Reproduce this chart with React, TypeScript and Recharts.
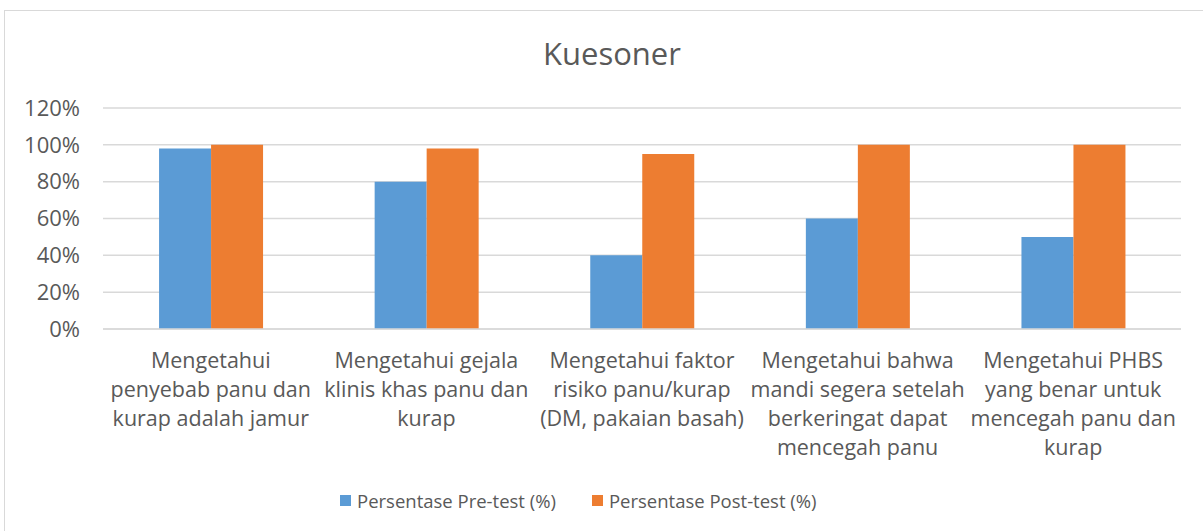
import React from 'react';
import { BarChart, Bar, XAxis, YAxis, CartesianGrid, Legend } from 'recharts';

const CATEGORIES = [
  'Mengetahui penyebab panu dan kurap adalah jamur',
  'Mengetahui gejala klinis khas panu dan kurap',
  'Mengetahui faktor risiko panu/kurap (DM, pakaian basah)',
  'Mengetahui bahwa mandi segera setelah berkeringat dapat mencegah panu',
  'Mengetahui PHBS yang benar untuk mencegah panu dan kurap',
];

// how each category label wraps under the axis
const CATEGORY_LINES = [
  ['Mengetahui', 'penyebab panu dan', 'kurap adalah jamur'],
  ['Mengetahui gejala', 'klinis khas panu dan', 'kurap'],
  ['Mengetahui faktor', 'risiko panu/kurap', '(DM, pakaian basah)'],
  ['Mengetahui bahwa', 'mandi segera setelah', 'berkeringat dapat', 'mencegah panu'],
  ['Mengetahui PHBS', 'yang benar untuk', 'mencegah panu dan', 'kurap'],
];

const PRE_TEST = [98, 80, 40, 60, 50];
const POST_TEST = [100, 98, 95, 100, 100];

const Y_TICKS = [0, 20, 40, 60, 80, 100, 120];

const PRE_LABEL = 'Persentase Pre-test (%)';
const POST_LABEL = 'Persentase Post-test (%)';

const BLUE = '#5B9BD5';
const ORANGE = '#ED7D31';
const TEXT = '#595959';
const GRID = '#D9D9D9';
const FONT = '"Open Sans", sans-serif';

const data = CATEGORIES.map((name, i) => ({
  name,
  pre: PRE_TEST[i],
  post: POST_TEST[i],
}));

function CategoryTick(props: any) {
  const { x, y, payload } = props;
  const idx = CATEGORIES.indexOf(payload.value);
  const lines = CATEGORY_LINES[idx] || [payload.value];
  return (
    <text x={x} y={y} textAnchor="middle" fill={TEXT} fontSize={21.5} fontFamily={FONT}>
      {lines.map((l, i) => (
        <tspan key={i} x={x} dy={i === 0 ? 37 : 29}>
          {l}
        </tspan>
      ))}
    </text>
  );
}

function LegendContent() {
  const items = [
    { label: PRE_LABEL, color: BLUE },
    { label: POST_LABEL, color: ORANGE },
  ];
  return (
    <div style={{ display: 'flex', alignItems: 'center', paddingLeft: 335, fontFamily: FONT, fontSize: 18.5, color: TEXT }}>
      {items.map((it, i) => (
        <div key={i} style={{ display: 'flex', alignItems: 'center', marginRight: 36 }}>
          <span style={{ width: 11, height: 11, background: it.color, display: 'inline-block', marginRight: 6 }} />
          <span>{it.label}</span>
        </div>
      ))}
    </div>
  );
}

export default function App() {
  return (
    <div
      style={{
        position: 'absolute',
        left: 4,
        top: 10,
        width: 1215,
        height: 535,
        border: `1px solid ${GRID}`,
        boxSizing: 'border-box',
        background: '#fff',
      }}
    >
      <div
        style={{
          position: 'absolute',
          left: 407,
          top: 21,
          width: 400,
          textAlign: 'center',
          fontFamily: FONT,
          fontSize: 31,
          color: TEXT,
        }}
      >
        Kuesoner
      </div>
      <BarChart
        width={1198}
        height={520}
        data={data}
        margin={{ top: 97, right: 22, bottom: 27, left: 0 }}
        barGap={0}
        barCategoryGap="26%"
      >
        <CartesianGrid vertical={false} stroke={GRID} strokeWidth={1.5} />
        <XAxis
          dataKey="name"
          height={150}
          interval={0}
          tickLine={false}
          tickSize={0}
          axisLine={{ stroke: GRID, strokeWidth: 1.5 }}
          tick={<CategoryTick />}
        />
        <YAxis
          width={98}
          domain={[0, 120]}
          ticks={Y_TICKS}
          interval={0}
          axisLine={false}
          tickLine={false}
          tickSize={0}
          tickMargin={23}
          tickFormatter={(v) => `${v}%`}
          tick={{ fill: TEXT, fontSize: 22, fontFamily: FONT }}
        />
        <Legend
          content={<LegendContent />}
          wrapperStyle={{ position: 'absolute', top: 477, left: 0, width: 1198 }}
        />
        <Bar dataKey="pre" name={PRE_LABEL} fill={BLUE} isAnimationActive={false} />
        <Bar dataKey="post" name={POST_LABEL} fill={ORANGE} isAnimationActive={false} />
      </BarChart>
    </div>
  );
}
